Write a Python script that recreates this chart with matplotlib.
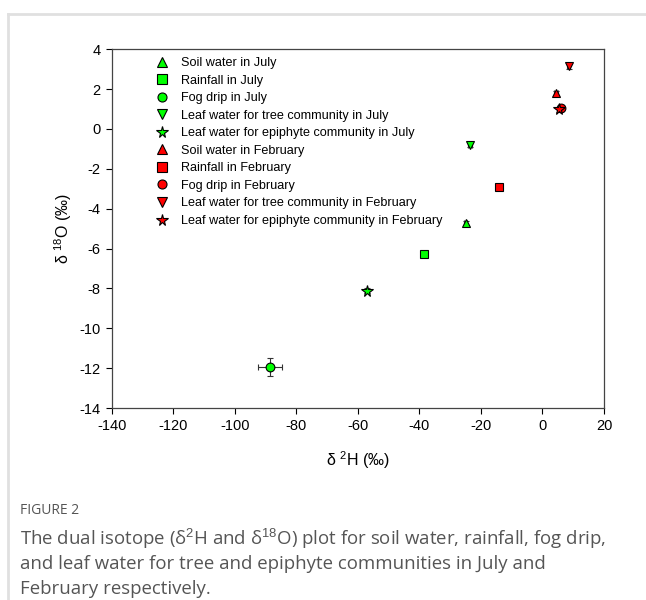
import matplotlib.pyplot as plt
from matplotlib.lines import Line2D

plt.rcParams["font.family"] = ["Liberation Sans", "DejaVu Sans"]
plt.rcParams["axes.unicode_minus"] = False
plt.rcParams["mathtext.fontset"] = "custom"
plt.rcParams["mathtext.rm"] = "Liberation Sans"
plt.rcParams["mathtext.it"] = "Liberation Sans:italic"

# series: name, marker, colour
labels = ["Soil water in July", "Rainfall in July", "Fog drip in July",
          "Leaf water for tree community in July",
          "Leaf water for epiphyte community in July",
          "Soil water in February", "Rainfall in February", "Fog drip in February",
          "Leaf water for tree community in February",
          "Leaf water for epiphyte community in February"]
markers = ["^", "s", "o", "v", "*", "^", "s", "o", "v", "*"]
colors = ["#00ff00"] * 5 + ["#ff0000"] * 5

d2H = [-25.0, -38.5, -88.5, -23.5, -57.0, 4.5, -14.0, 6.0, 8.5, 5.5]
d18O = [-4.72, -6.28, -11.95, -0.8, -8.12, 1.78, -2.9, 1.05, 3.15, 0.98]
d2H_err = [0.6, 0.7, 3.9, 0.6, 0.6, 0.6, 0.8, 0.7, 0.6, 0.6]
d18O_err = [0.12, 0.12, 0.45, 0.12, 0.12, 0.12, 0.15, 0.15, 0.12, 0.12]

xticks = list(range(-140, 21, 20))
yticks = list(range(-14, 5, 2))

fig = plt.figure(figsize=(6.46, 6.0), dpi=100)
ax = fig.add_axes([0.173, 0.32, 0.762, 0.598])

for i in range(len(labels)):
    ms = 8.5 if markers[i] == "*" else 6.3
    ax.errorbar(d2H[i], d18O[i], xerr=d2H_err[i], yerr=d18O_err[i],
                fmt=markers[i], mfc=colors[i], mec="black", mew=0.8, ms=ms,
                ecolor="#333333", elinewidth=0.8, capsize=2.5, zorder=3)

ax.set_xlim(-140, 20)
ax.set_ylim(-14, 4)
ax.set_xticks(xticks)
ax.set_yticks(yticks)
ax.tick_params(direction="out", length=4, width=0.8, labelsize=10.5, pad=4)
for s in ax.spines.values():
    s.set_color("#444444")
    s.set_linewidth(0.9)

ax.set_xlabel(r"δ $^{2}$H (‰)", fontsize=11.5, labelpad=12)
ax.set_ylabel(r"δ $^{18}$O (‰)", fontsize=11.5, labelpad=4)

handles = []
for i in range(len(labels)):
    ms = 8.5 if markers[i] == "*" else 6.5
    handles.append(Line2D([], [], ls="none", marker=markers[i], mfc=colors[i],
                          mec="black", mew=0.8, ms=ms))
ax.legend(handles, labels, loc="upper left", bbox_to_anchor=(0.06, 1.01),
          frameon=False, fontsize=9.1, handletextpad=0.75, labelspacing=0.44,
          handlelength=1.5)

# page frame
fig.add_artist(Line2D([0.0125, 1.0], [0.977, 0.977], color="#e0e0e0", lw=2))
fig.add_artist(Line2D([0.0125, 0.0125], [0.0, 0.977], color="#e0e0e0", lw=2))

cap_font = ["Open Sans", "DejaVu Sans"]
fig.text(0.031, 0.15, "FIGURE 2", fontsize=10, color="#555555", family=cap_font,
         va="center")
cap_lines = ["The dual isotope (δ$^{2}$H and δ$^{18}$O) plot for soil water, rainfall, fog drip,",
             "and leaf water for tree and epiphyte communities in July and",
             "February respectively."]
for k, line in enumerate(cap_lines):
    fig.text(0.031, 0.102 - k * 0.042, line, fontsize=13.4, color="#555555",
             family=cap_font, va="center")

fig.savefig("out.png", dpi=100)
